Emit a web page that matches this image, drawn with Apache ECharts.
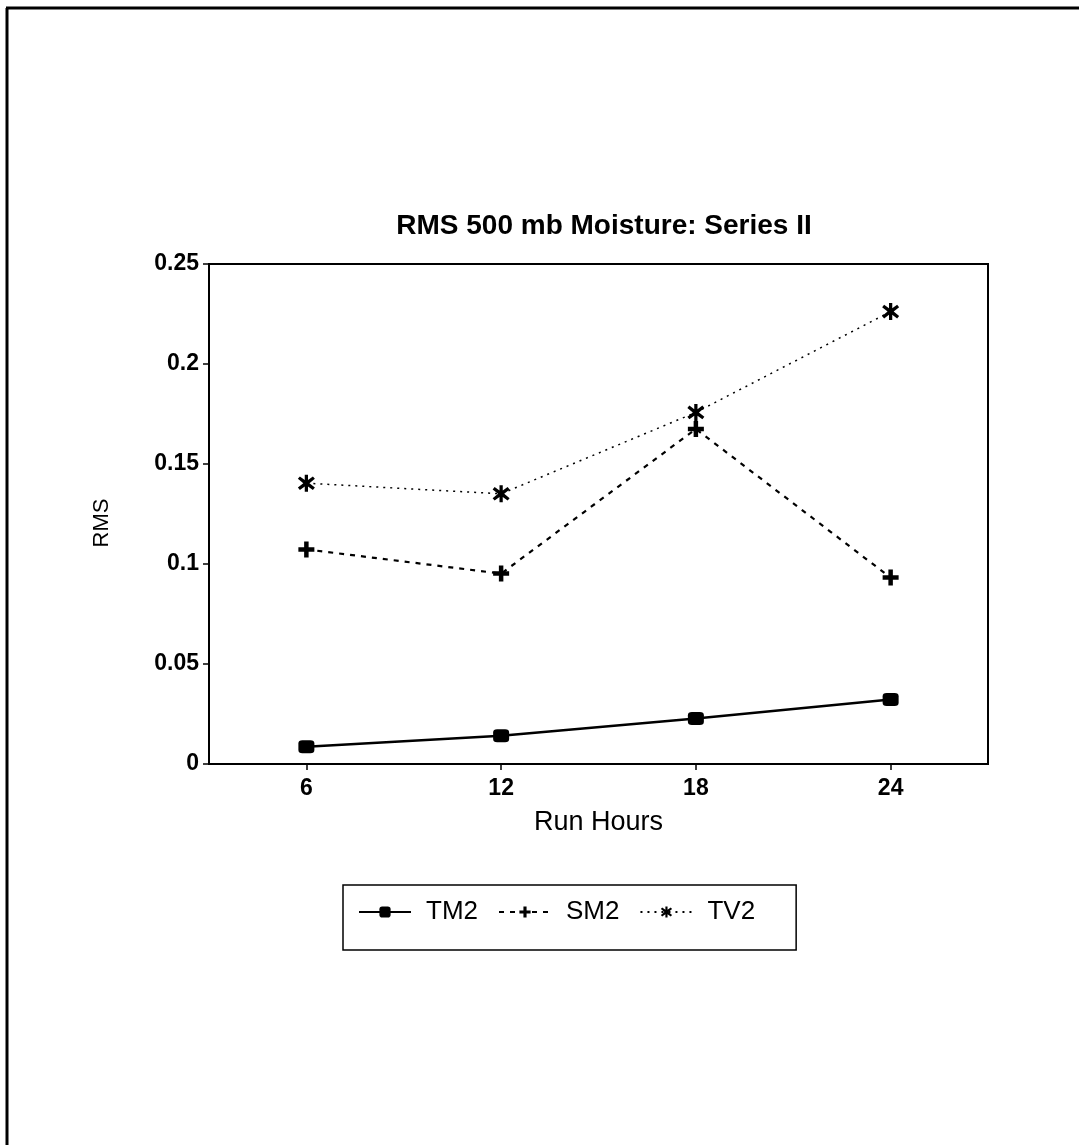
<!DOCTYPE html>
<html>
<head>
<meta charset="utf-8">
<script src="https://cdn.jsdelivr.net/npm/echarts@6/dist/echarts.min.js"></script>
<style>
html,body{margin:0;padding:0;background:#fff;}
#chart{width:1079px;height:1145px;}
</style>
</head>
<body>
<div id="chart"></div>
<script>
const runHours = ['6', '12', '18', '24'];
const tm2 = [0.0086, 0.0141, 0.0228, 0.0323];
const sm2 = [0.1073, 0.0952, 0.1675, 0.0932];
const tv2 = [0.1404, 0.1351, 0.1758, 0.2262];
const yTicks = [0, 0.05, 0.1, 0.15, 0.2, 0.25];

const plusPath = 'path://M3.6,0 L6.4,0 L6.4,3.6 L10,3.6 L10,6.4 L6.4,6.4 L6.4,10 L3.6,10 L3.6,6.4 L0,6.4 L0,3.6 L3.6,3.6 Z';
const starPath = 'path://M4.1,0 L5.9,0 L5.9,3.1 L8.6,1 L9.7,2.4 L6.7,5 L9.7,7.6 L8.6,9 L5.9,6.9 L5.9,10 L4.1,10 L4.1,6.9 L1.4,9 L0.3,7.6 L3.3,5 L0.3,2.4 L1.4,1 L4.1,3.1 Z';

const font = 'Liberation Sans, Arial, sans-serif';
const chart = echarts.init(document.getElementById('chart'));
chart.setOption({
  backgroundColor: '#fff',
  animation: false,
  title: {
    text: 'RMS 500 mb Moisture: Series II',
    left: 599, top: 207, textAlign: 'center',
    textStyle: {fontFamily: font, fontSize: 28, fontWeight: 'bold', color: '#000'}
  },
  grid: {left: 209, top: 264, right: 91, bottom: 381, show: true, borderColor: '#000', borderWidth: 2, backgroundColor: 'transparent'},
  legend: {
    left: 343, top: 885,
    padding: [14, 41, 25, 15],
    borderColor: '#000', borderWidth: 1.5, borderRadius: 0,
    itemWidth: 52, itemHeight: 14, itemGap: 20,
    textStyle: {fontFamily: font, fontSize: 26, color: '#000', padding: [0, 0, 0, 10]},
    data: ['TM2', 'SM2', 'TV2']
  },
  xAxis: {
    type: 'category', data: runHours, boundaryGap: true,
    name: 'Run Hours', nameLocation: 'middle', nameGap: 45,
    nameTextStyle: {fontFamily: font, fontSize: 27, color: '#000'},
    axisLine: {lineStyle: {color: '#000', width: 2}},
    axisTick: {show: true, alignWithLabel: true, length: 6, lineStyle: {color: '#000', width: 1.5}},
    axisLabel: {fontFamily: font, fontSize: 23, fontWeight: 'bold', color: '#000', margin: 13},
    splitLine: {show: false}
  },
  yAxis: {
    type: 'value', min: yTicks[0], max: yTicks[yTicks.length - 1], interval: 0.05,
    name: 'RMS', nameLocation: 'middle', nameGap: 96, nameRotate: 90,
    nameTextStyle: {fontFamily: font, fontSize: 22, color: '#000', padding: [0, 18, 0, 0]},
    axisLine: {show: true, lineStyle: {color: '#000', width: 2}},
    axisTick: {show: true, length: 6, lineStyle: {color: '#000', width: 1.5}},
    axisLabel: {fontFamily: font, fontSize: 23, fontWeight: 'bold', color: '#000', margin: 10},
    splitLine: {show: false}
  },
  series: [
    {name: 'TM2', type: 'line', data: tm2, symbol: 'roundRect', symbolSize: [16, 13],
     itemStyle: {color: '#000'}, lineStyle: {color: '#000', width: 2.5, type: 'solid'}},
    {name: 'SM2', type: 'line', data: sm2, symbol: plusPath, symbolSize: 16,
     itemStyle: {color: '#000'}, lineStyle: {color: '#000', width: 2.2, type: [5, 6]}},
    {name: 'TV2', type: 'line', data: tv2, symbol: starPath, symbolSize: 17,
     itemStyle: {color: '#000'}, lineStyle: {color: '#000', width: 1.5, type: [2, 5]}}
  ],
  graphic: [
    {type: 'line', shape: {x1: 7, y1: 8, x2: 7, y2: 1145}, style: {stroke: '#000', lineWidth: 3}},
    {type: 'line', shape: {x1: 6, y1: 8, x2: 1079, y2: 8}, style: {stroke: '#000', lineWidth: 3}}
  ]
});
</script>
</body>
</html>
